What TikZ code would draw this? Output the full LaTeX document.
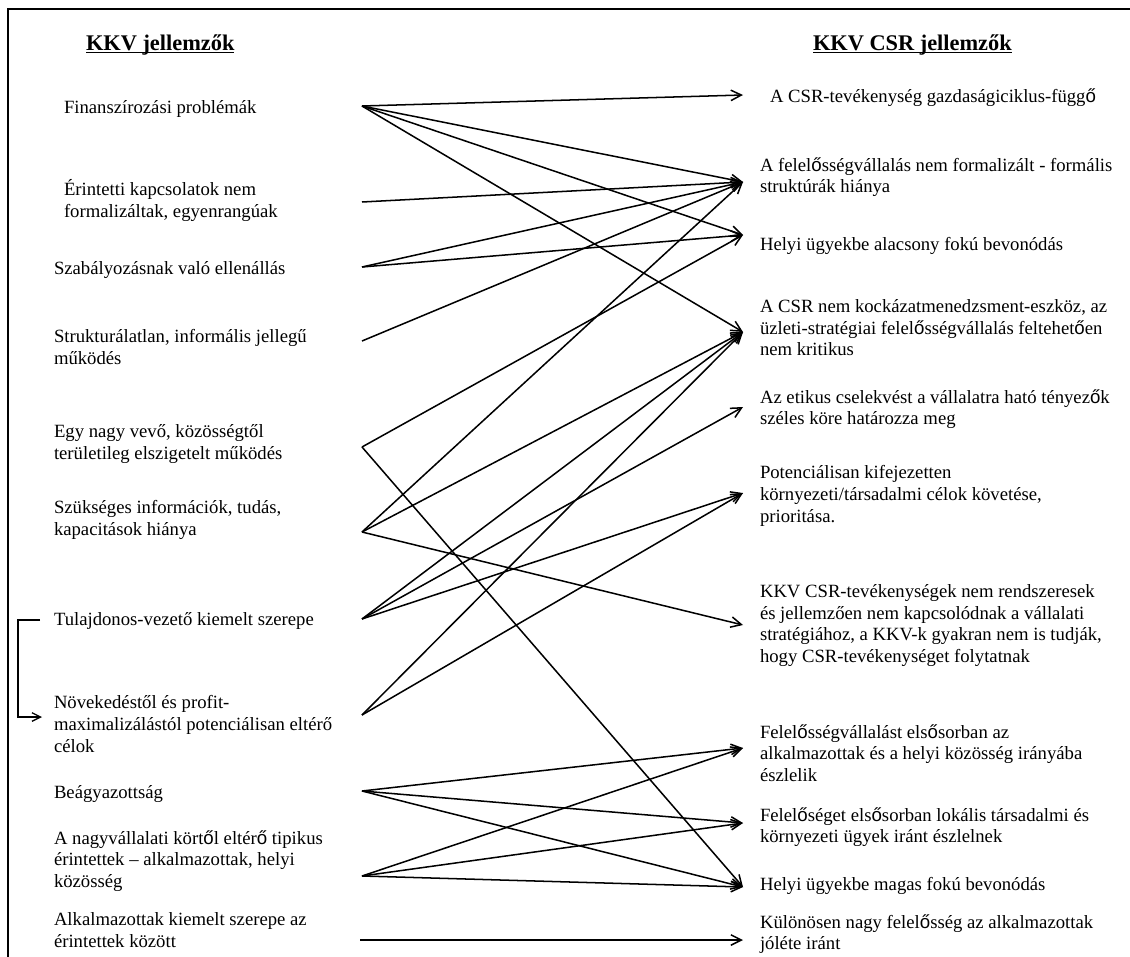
\documentclass[tikz,border=0pt]{standalone}
\usepackage{fontspec}
\setmainfont{Liberation Serif}
\newfontfamily\oesans{Liberation Sans}
\usetikzlibrary{arrows.meta}
% the long o with double acute set in a sans face, as in the printed table
\newcommand\sfoe{{\oesans ő}}
\begin{document}
\begin{tikzpicture}[x=0.022cm,y=-0.022cm,
  every node/.style={inner sep=0pt, outer sep=0pt},
  item/.style={anchor=north west, yshift=11pt, align=left,
    font=\fontsize{11.7}{13.6}\selectfont,
    execute at begin node={\rule{0pt}{11pt}}},
  head/.style={anchor=base west, font=\fontsize{14}{16}\selectfont\bfseries},
  link/.style={line width=0.95pt, -{Straight Barb[length=2.3mm,width=2.3mm]}},
  frame/.style={line width=0.9pt}]
\useasboundingbox (0,0) rectangle (1130,957);

% frame (top and left edges)
\draw[frame] (1130,9) -- (8,9) -- (8,957);

% column headings
\node[head] (hl) at (86,50) {KKV jellemzők};
\node[head] (hr) at (813,50) {KKV CSR jellemzők};
\draw[line width=0.7pt] ([yshift=-1.6pt]hl.base west) -- ([yshift=-1.6pt]hl.base east);
\draw[line width=0.7pt] ([yshift=-1.6pt]hr.base west) -- ([yshift=-1.6pt]hr.base east);

% SME characteristics
\node[item] (L1) at (64,113) {Finanszírozási problémák};
\node[item] (L2) at (64,197) {Érintetti kapcsolatok nem\\formalizáltak, egyenrangúak};
\node[item] (L3) at (54,274) {Szabályozásnak való ellenállás};
\node[item] (L4) at (54,347) {Strukturálatlan, informális jellegű\\működés};
\node[item] (L5) at (54,442) {Egy nagy vevő, közösségtől\\területileg elszigetelt működés};
\node[item] (L6) at (54,518) {Szükséges információk, tudás,\\kapacitások hiánya};
\node[item] (L7) at (54,625) {Tulajdonos-vezető kiemelt szerepe};
\node[item] (L8) at (54,713) {Növekedéstől és profit-\\maximalizálástól potenciálisan eltérő\\célok};
\node[item] (L9) at (54,798) {Beágyazottság};
\node[item] (L10) at (54,848) {A nagyvállalati kört\sfoe{}l eltér\sfoe{} tipikus\\érintettek – alkalmazottak, helyi\\közösség};
\node[item] (L11) at (54,930) {Alkalmazottak kiemelt szerepe az\\érintettek között};

% SME CSR characteristics
\node[item] (R1) at (770,102) {A CSR-tevékenység gazdaságiciklus-függ\sfoe};
\node[item] (R2) at (760,175) {A felel\sfoe{}sségvállalás nem formalizált - formális\\struktúrák hiánya};
\node[item] (R3) at (760,250) {Helyi ügyekbe alacsony fokú bevonódás};
\node[item] (R4) at (760,317) {A CSR nem kockázatmenedzsment-eszköz, az\\üzleti-stratégiai felel\sfoe{}sségvállalás feltehet\sfoe{}en\\nem kritikus};
\node[item] (R5) at (760,407) {Az etikus cselekvést a vállalatra ható tényez\sfoe{}k\\széles köre határozza meg};
\node[item] (R6) at (760,483) {Potenciálisan kifejezetten\\környezeti/társadalmi célok követése,\\prioritása.};
\node[item] (R7) at (760,602) {KKV CSR-tevékenységek nem rendszeresek\\és jellemzően nem kapcsolódnak a vállalati\\stratégiához, a KKV-k gyakran nem is tudják,\\hogy CSR-tevékenységet folytatnak};
\node[item] (R8) at (760,742) {Felel\sfoe{}sségvállalást els\sfoe{}sorban az\\alkalmazottak és a helyi közösség irányába\\észlelik};
\node[item] (R9) at (760,825) {Felel\sfoe{}séget els\sfoe{}sorban lokális társadalmi és\\környezeti ügyek iránt észlelnek};
\node[item] (R10) at (760,890) {Helyi ügyekbe magas fokú bevonódás};
\node[item] (R11) at (760,932) {Különösen nagy felel\sfoe{}sség az alkalmazottak\\jóléte iránt};

% connector ends
\coordinate (l1) at (362,106);
\coordinate (l2) at (362,202);
\coordinate (l3) at (362,267);
\coordinate (l4) at (362,341);
\coordinate (l5) at (362,447);
\coordinate (l6) at (362,532);
\coordinate (l7) at (362,619);
\coordinate (l8) at (362,715);
\coordinate (l9) at (362,791);
\coordinate (l10) at (362,876);
\coordinate (l11) at (360,940);
\coordinate (r1) at (743,95);
\coordinate (r2) at (743,182);
\coordinate (r3) at (743,235);
\coordinate (r4) at (743,332);
\coordinate (r5) at (743,407);
\coordinate (r6) at (743,493);
\coordinate (r7) at (743,625);
\coordinate (r8) at (743,748);
\coordinate (r9) at (743,823);
\coordinate (r10) at (743,887);
\coordinate (r11) at (743,940);

% links between the two columns
\foreach \a/\b in {l1/r1,l1/r2,l1/r3,l1/r4,
                   l2/r2,
                   l3/r2,l3/r3,
                   l4/r2,
                   l5/r3,l5/r10,
                   l6/r2,l6/r4,l6/r7,
                   l7/r4,l7/r5,l7/r6,
                   l8/r4,l8/r6,
                   l9/r8,l9/r9,l9/r10,
                   l10/r8,l10/r9,l10/r10,
                   l11/r11}
  \draw[link] (\a) -- (\b);

% owner-manager role leads to the alternative goals
\coordinate (bt) at (40,620);
\coordinate (bb) at (42,717);
\draw[line width=0.8pt, -{Straight Barb[length=1.9mm,width=1.9mm]}] (bt) -- ++(-22,0) |- (bb);
\end{tikzpicture}
\end{document}
